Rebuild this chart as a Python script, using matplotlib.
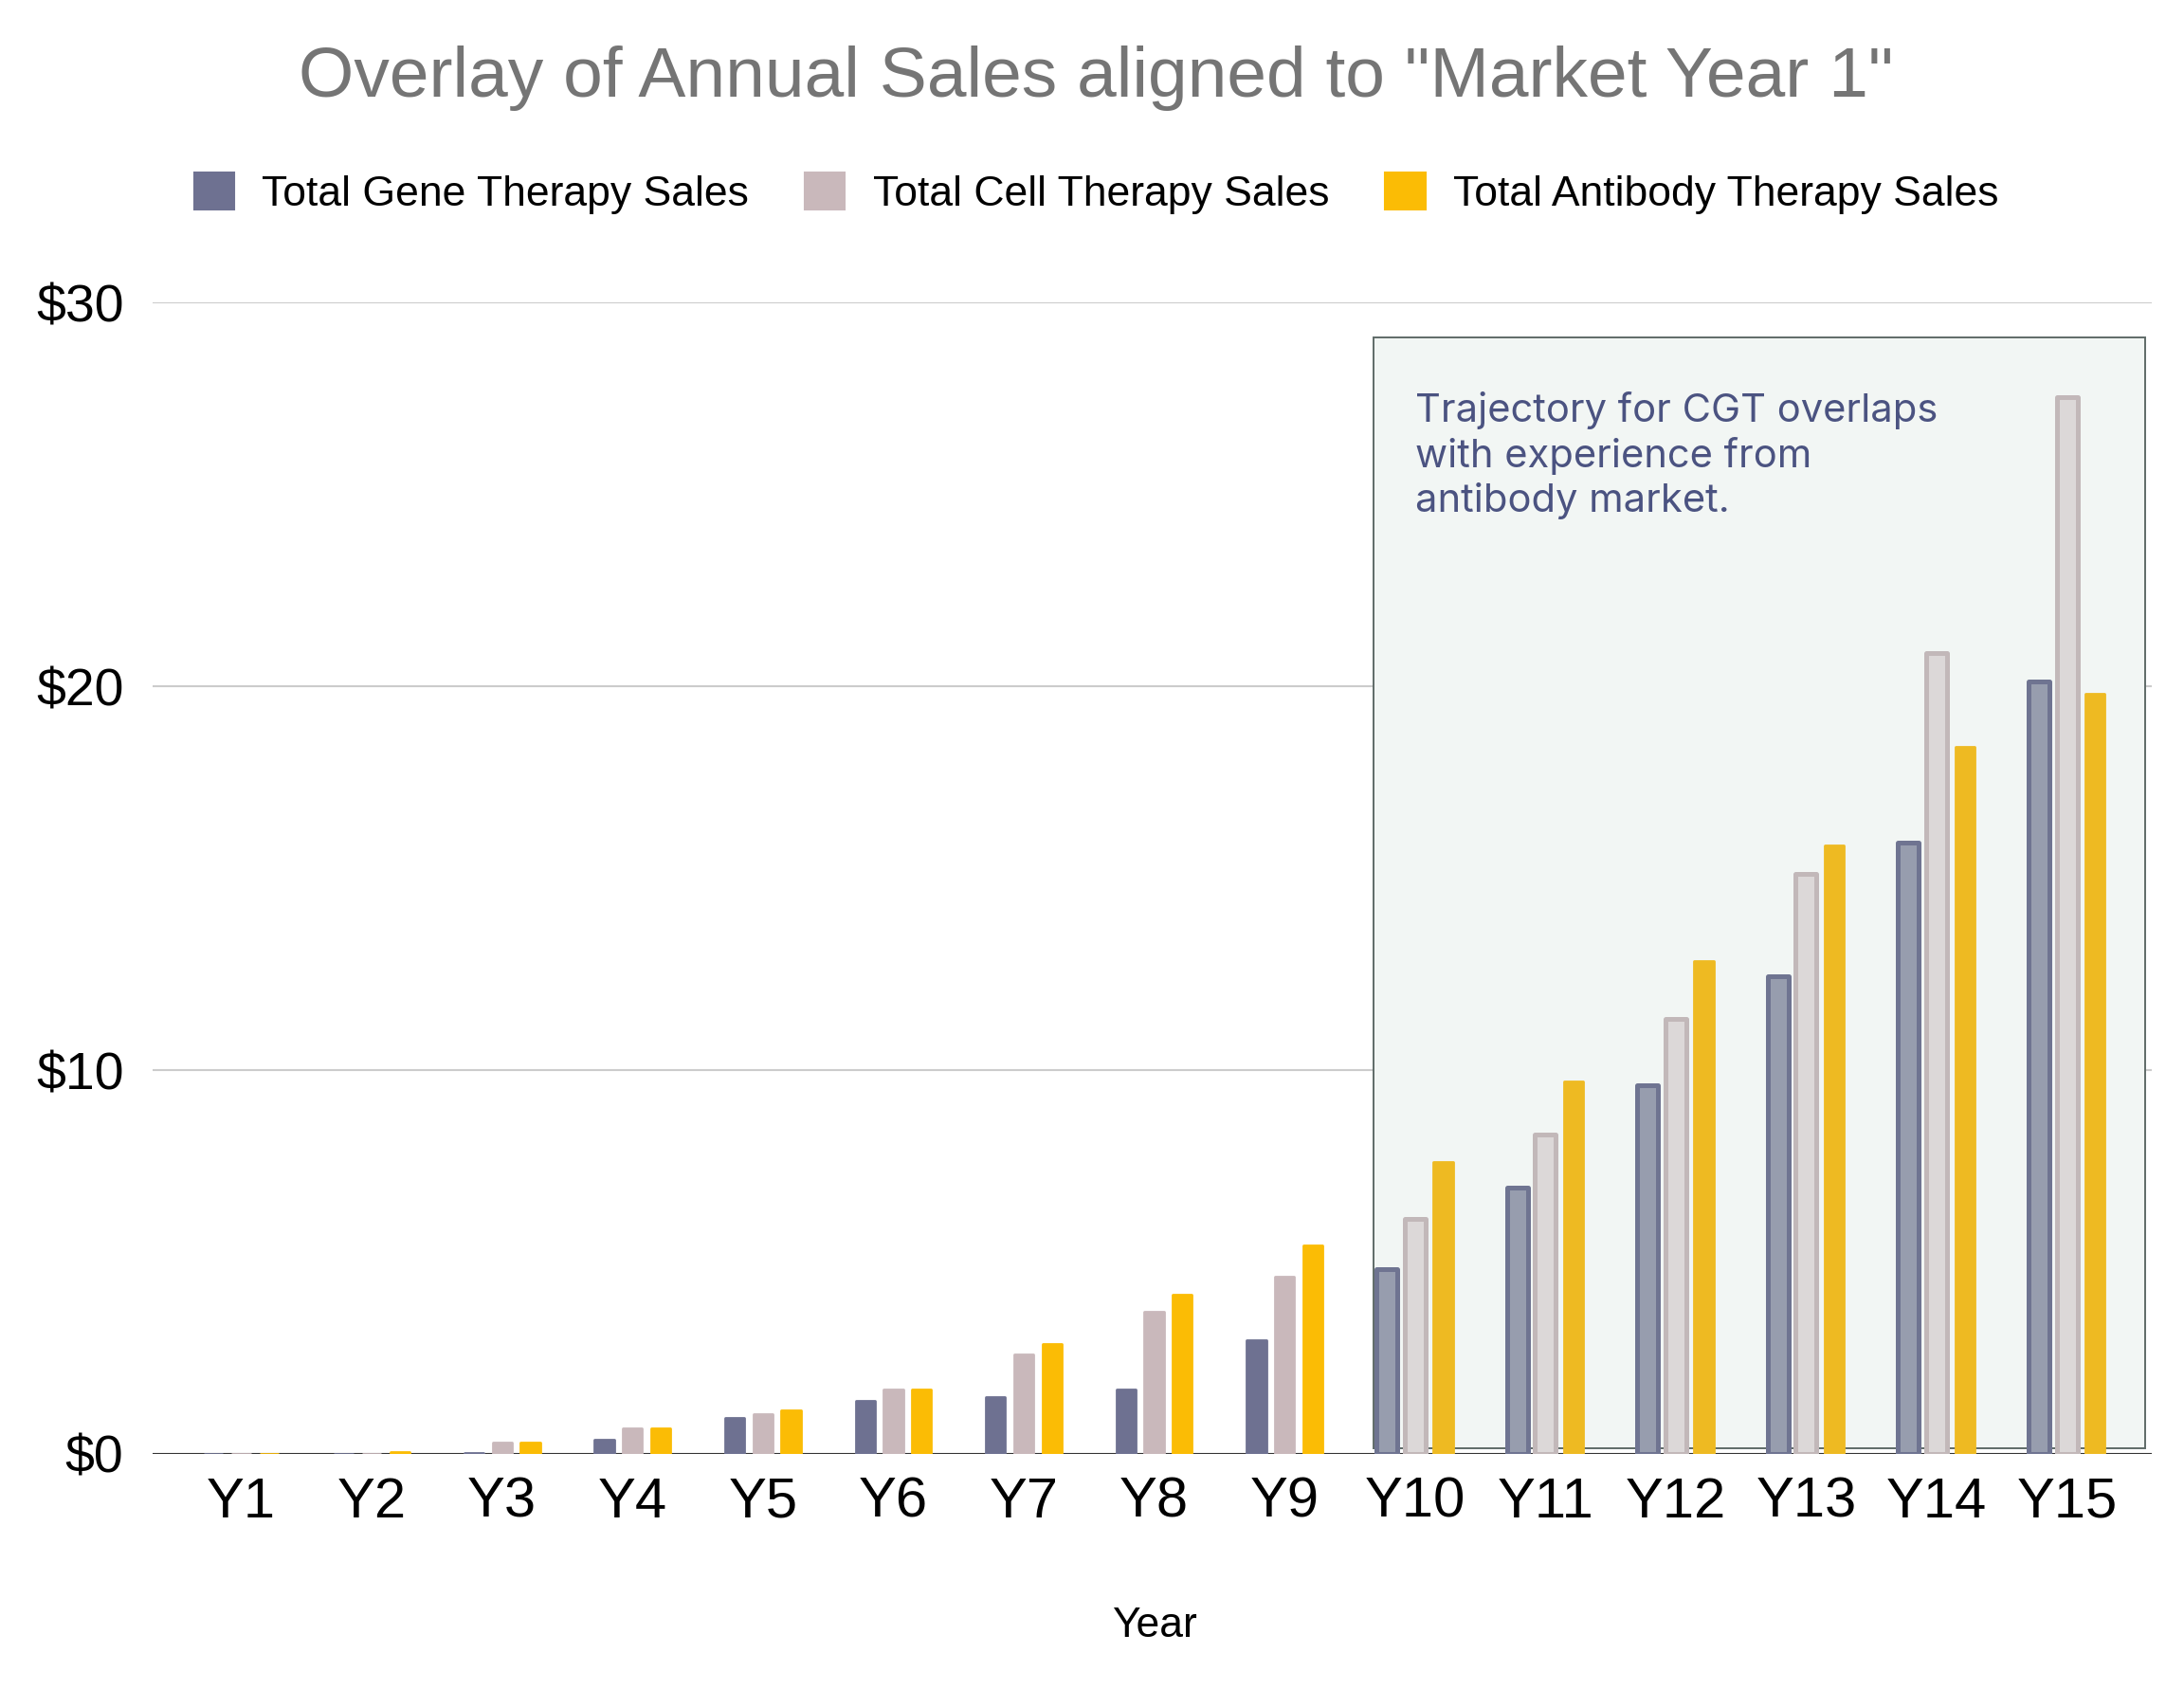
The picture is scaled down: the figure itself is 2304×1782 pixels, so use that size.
import matplotlib
matplotlib.use("Agg")
import matplotlib.pyplot as plt
from matplotlib.patches import Patch, Rectangle
import numpy as np

# ---- data ----
years = ["Y1", "Y2", "Y3", "Y4", "Y5", "Y6", "Y7", "Y8", "Y9", "Y10", "Y11", "Y12", "Y13", "Y14", "Y15"]
gene = [0, 0, 0.03, 0.38, 0.93, 1.39, 1.47, 1.68, 2.97, 4.82, 6.93, 9.60, 12.45, 15.93, 20.13]
cell = [0, 0, 0.30, 0.67, 1.03, 1.68, 2.59, 3.71, 4.61, 6.12, 8.32, 11.33, 15.12, 20.88, 27.55]
antibody = [0, 0.04, 0.30, 0.67, 1.13, 1.68, 2.87, 4.16, 5.44, 7.60, 9.70, 12.84, 15.86, 18.42, 19.81]
series_names = ["Total Gene Therapy Sales", "Total Cell Therapy Sales", "Total Antibody Therapy Sales"]
yticks = [0, 10, 20, 30]
ytick_labels = ["$0", "$10", "$20", "$30"]
title = 'Overlay of Annual Sales aligned to "Market Year 1"'
annotation = "Trajectory for CGT overlaps\nwith experience from\nantibody market."
highlight_start = 9  # Y10

# ---- styles ----
FONT = ["Liberation Sans", "DejaVu Sans"]
plt.rcParams["font.family"] = FONT
base_cols = ["#6e7191", "#c9b8bb", "#fbbc05"]
hi_face = ["#979dae", "#dcd8d8", "#eeba22"]
hi_edge = ["#6f7491", "#c2b8b9", "#eeba22"]
hi_lw = [3.6, 3.6, 0.0]

fig = plt.figure(figsize=(23.04, 17.82), dpi=100)
ax = fig.add_axes([0.06988, 0.13917, 0.98524 - 0.06988, 0.82071 - 0.13917])

x = np.arange(len(years))
offs = [-0.216, 0.0, 0.216]
bw = 0.148
h = highlight_start

for i, vals in enumerate([gene, cell, antibody]):
    vals = np.asarray(vals, dtype=float)
    bars = ax.bar(x[:h] + offs[i], vals[:h], width=bw, color=base_cols[i],
                  edgecolor=base_cols[i], linewidth=2.0, zorder=3)
    for b in bars:
        b.set_joinstyle("round")
    if i < 2:
        bars2 = ax.bar(x[h:] + offs[i], vals[h:], width=bw + 0.012, color=hi_face[i],
                       edgecolor=hi_edge[i], linewidth=hi_lw[i], zorder=3)
    else:
        bars2 = ax.bar(x[h:] + offs[i], vals[h:], width=bw, color=hi_face[i],
                       edgecolor=hi_face[i], linewidth=2.0, zorder=3)
    for b in bars2:
        b.set_joinstyle("round")

# highlight box
ax.add_patch(Rectangle((8.68, 0.15), 14.60 - 8.68, 29.1 - 0.15, facecolor="#f2f6f4",
                       edgecolor="#5f6b68", linewidth=1.4, zorder=1))

ax.text(9.0, 27.68, annotation, fontsize=30, color="#4b5381", family=["Inter", "DejaVu Sans"],
        ha="left", va="top", linespacing=1.24, zorder=4)

ax.set_xlim(-0.68, 14.65)
ax.set_ylim(0, 30)
ax.set_yticks(yticks)
ax.set_yticklabels(ytick_labels, fontsize=40)
ax.set_xticks(x)
ax.set_xticklabels(years, fontsize=43)
ax.tick_params(axis="both", length=0)
ax.tick_params(axis="y", pad=22)
ax.tick_params(axis="x", pad=17)
for s in ax.spines.values():
    s.set_visible(False)
ax.grid(axis="y", color="#cccccc", linewidth=1.5, zorder=0)
ax.set_axisbelow(True)
ax.axhline(0, color="#333333", linewidth=2.2, zorder=2)

fig.text(0.502, 0.943, title, fontsize=54, color="#757575", ha="center", va="baseline")
fig.text(0.5286, 0.0309, "Year", fontsize=32, color="black", ha="center", va="baseline")

handles = [Patch(facecolor=c, edgecolor=c, linewidth=1.5, joinstyle="round") for c in base_cols]
fig.legend(handles, series_names, loc="center", bbox_to_anchor=(0.502, 0.8855), ncol=3,
           frameon=False, fontsize=32, handlelength=0.95, handleheight=0.97,
           handletextpad=0.66, columnspacing=1.33)

fig.savefig("out.png", dpi=100, facecolor="white")
